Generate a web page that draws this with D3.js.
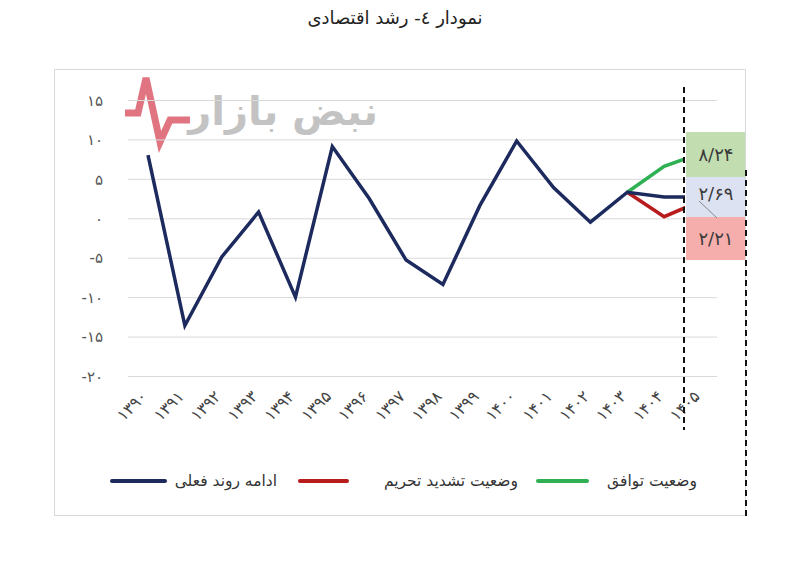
<!DOCTYPE html>
<html><head><meta charset="utf-8">
<script src="https://cdn.jsdelivr.net/npm/d3@7"></script>
<style>body{margin:0;background:#fff;} text{font-family:"DejaVu Sans","Noto Sans",sans-serif;}</style>
</head><body>
<svg id="c" width="800" height="570"></svg>
<script>
// ---- data ----
const years = ['1390','1391','1392','1393','1394','1395','1396','1397','1398','1399','1400','1401','1402','1403','1404','1405'];
const actual = [8.0,-13.6,-4.9,0.8,-10.0,9.1,2.5,-5.3,-8.4,1.6,9.8,3.9,-0.5,3.3]; // 1390-1403
const scenarioYears = ['1403','1404','1405'];
const currentTrend = [3.3,2.7,2.69];
const sanctions = [3.3,0.2,2.21];
const agreement = [3.3,6.6,8.24];
const yTicks = [-20,-15,-10,-5,0,5,10,15];
const title = 'نمودار ٤- رشد اقتصادی';
const seriesNames = ['وضعیت توافق','وضعیت تشدید تحریم','ادامه روند فعلی'];
const endLabels = ['8/24','2/69','2/21'];

const fa = s => String(s).replace(/[0-9]/g, d => '۰۱۲۳۴۵۶۷۸۹'[+d]);

const svg = d3.select('#c');
const x = d3.scalePoint().domain(years).range([148,701]);
const y = d3.scaleLinear().domain([-20,15]).range([376,100]);

// outer border
svg.append('rect').attr('x',54.5).attr('y',69.5).attr('width',691).attr('height',446)
  .attr('fill','none').attr('stroke','#d9d9d9');

// title
svg.append('text').attr('x',395).attr('y',24).attr('text-anchor','middle')
  .attr('font-size',18).attr('fill','#222').text(title);

// watermark
svg.append('path').attr('d','M125,113 L138,113 L146,78 L160,142 L170,120 L190,120')
  .attr('fill','none').attr('stroke','#e07480').attr('stroke-width',7).attr('stroke-linejoin','miter');
svg.append('text').attr('x',378).attr('y',125).attr('text-anchor','end')
  .attr('font-size',40).attr('font-weight','bold').attr('fill','#b9b9b9').attr('opacity',0.85).text('نبض بازار');

// grid
svg.append('g').selectAll('line').data(yTicks).join('line')
  .attr('x1',128).attr('x2',717).attr('y1',d=>y(d)+0.5).attr('y2',d=>y(d)+0.5)
  .attr('stroke','#d9d9d9').attr('stroke-width',1);

// y labels
const yAxis = d3.axisLeft(y).tickValues(yTicks).tickSize(0).tickPadding(0).tickFormat(d=>fa(d));
const gy = svg.append('g').attr('transform','translate(103,0)').call(yAxis);
gy.select('.domain').remove();
gy.selectAll('text').attr('font-size',15).attr('fill','#555').attr('dy','0.35em');

// x labels
const xAxis = d3.axisBottom(x).tickSize(0).tickPadding(0).tickFormat(d=>fa(d));
const gx = svg.append('g').attr('transform','translate(0,394)').call(xAxis);
gx.select('.domain').remove();
gx.selectAll('text').attr('font-size',16).attr('fill','#444')
  .attr('text-anchor','end').attr('dy','0.3em').attr('transform','translate(-4,0) rotate(-45)');

// clip at dashed line
svg.append('clipPath').attr('id','clip').append('rect').attr('x',0).attr('y',0).attr('width',685).attr('height',570);

const line = d3.line().x(d=>x(d[0])).y(d=>y(d[1]));
const plot = svg.append('g').attr('clip-path','url(#clip)');
const blueData = years.slice(0,14).map((yr,i)=>[yr,actual[i]]).concat(scenarioYears.slice(1).map((yr,i)=>[yr,currentTrend[i+1]]));
const colors = {green:'#2eb053', red:'#b81c1c', blue:'#1c2a5e'};
plot.append('path').datum(scenarioYears.map((yr,i)=>[yr,agreement[i]])).attr('d',line)
  .attr('fill','none').attr('stroke',colors.green).attr('stroke-width',3.5);
plot.append('path').datum(scenarioYears.map((yr,i)=>[yr,sanctions[i]])).attr('d',line)
  .attr('fill','none').attr('stroke',colors.red).attr('stroke-width',3.5);
plot.append('path').datum(blueData).attr('d',line)
  .attr('fill','none').attr('stroke',colors.blue).attr('stroke-width',3.5).attr('stroke-linejoin','miter');

// value boxes
const boxes = [
  {y0:132,y1:177,fill:'#c2deb0',label:endLabels[0],ty:155},
  {y0:177,y1:217,fill:'#dce2f1',label:endLabels[1],ty:194},
  {y0:217,y1:260,fill:'#f6aeac',label:endLabels[2],ty:239}
];
svg.append('g').selectAll('rect').data(boxes).join('rect')
  .attr('x',686).attr('width',59).attr('y',d=>d.y0).attr('height',d=>d.y1-d.y0).attr('fill',d=>d.fill);
svg.append('line').attr('x1',699).attr('y1',201).attr('x2',717).attr('y2',218).attr('stroke','#888').attr('stroke-width',1);
svg.append('g').selectAll('text').data(boxes).join('text')
  .attr('x',716).attr('y',d=>d.ty).attr('dy','0.35em').attr('text-anchor','middle')
  .attr('font-size',18).attr('fill','#3a3a3a').text(d=>fa(d.label));

// dashed lines
svg.append('line').attr('x1',684).attr('x2',684).attr('y1',87).attr('y2',430)
  .attr('stroke','#111').attr('stroke-width',2).attr('stroke-dasharray','6,4');
svg.append('line').attr('x1',746).attr('x2',746).attr('y1',170).attr('y2',520)
  .attr('stroke','#111').attr('stroke-width',2).attr('stroke-dasharray','6,4');

// legend
const legend = [
  {name:seriesNames[0],color:colors.green,tx:697,l0:538,l1:587},
  {name:seriesNames[1],color:colors.red,tx:518,l0:300,l1:347},
  {name:seriesNames[2],color:colors.blue,tx:277,l0:112,l1:165}
];
const lg = svg.append('g');
lg.selectAll('line').data(legend).join('line')
  .attr('x1',d=>d.l0).attr('x2',d=>d.l1).attr('y1',481).attr('y2',481)
  .attr('stroke',d=>d.color).attr('stroke-width',4).attr('stroke-linecap','round');
lg.selectAll('text').data(legend).join('text')
  .attr('x',d=>d.tx).attr('y',481).attr('dy','0.35em').attr('text-anchor','end')
  .attr('font-size',15.5).attr('fill','#333').text(d=>d.name);
</script>
</body></html>
